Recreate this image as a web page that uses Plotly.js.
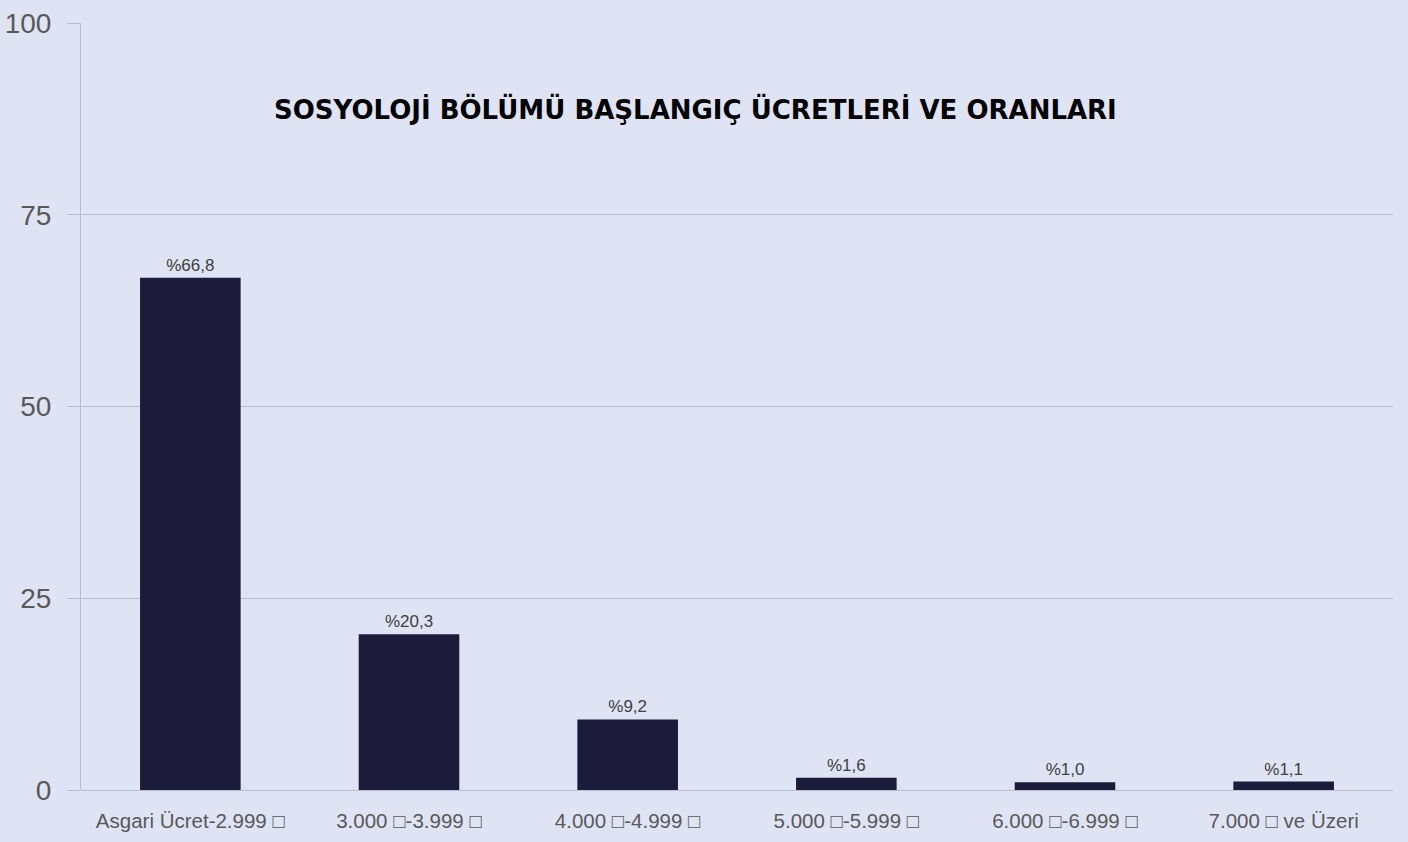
<!DOCTYPE html>
<html>
<head>
<meta charset="utf-8">
<script src="https://cdn.plot.ly/plotly-3.0.1.min.js"></script>
<style>
html,body{margin:0;padding:0;background:#dfe4f4;}
#chart{width:1408px;height:842px;}
</style>
</head>
<body>
<div id="chart"></div>
<script>
const categories = ["Asgari Ücret-2.999 □", "3.000 □-3.999 □", "4.000 □-4.999 □", "5.000 □-5.999 □", "6.000 □-6.999 □", "7.000 □ ve Üzeri"];
const values = [66.8, 20.3, 9.2, 1.6, 1.0, 1.1];
const valueLabels = ["%66,8", "%20,3", "%9,2", "%1,6", "%1,0", "%1,1"];
const yTicks = [0, 25, 50, 75, 100];
const chartTitle = "SOSYOLOJİ BÖLÜMÜ BAŞLANGIÇ ÜCRETLERİ VE ORANLARI";

const bg = "#dfe4f4";
const grid = "#b9bdcf";

Plotly.newPlot("chart", [{
  type: "bar",
  x: categories,
  y: values,
  text: valueLabels,
  textposition: "outside",
  cliponaxis: false,
  textfont: {family: "Liberation Sans, Arial", size: 17, color: "#404040"},
  marker: {color: "#1c1b3a"},
  hoverinfo: "skip"
}], {
  width: 1408,
  height: 842,
  paper_bgcolor: bg,
  plot_bgcolor: bg,
  margin: {l: 81, r: 15, t: 23, b: 52},
  bargap: 0.54,
  showlegend: false,
  annotations: [{
    text: "<b>" + chartTitle + "</b>",
    xref: "paper", yref: "paper",
    x: 0.468, y: 0.888,
    xanchor: "center", yanchor: "middle",
    showarrow: false,
    font: {family: "DejaVu Sans", size: 26, color: "#000000"}
  }],
  xaxis: {
    type: "category",
    showgrid: false,
    showline: false,
    zeroline: false,
    ticks: "",
    ticklabelstandoff: 16,
    tickfont: {family: "Liberation Sans, Arial", size: 20.5, color: "#595959"},
    fixedrange: true
  },
  yaxis: {
    range: [0, 100],
    tickvals: yTicks,
    ticktext: yTicks.map(String),
    showgrid: true,
    gridcolor: grid,
    gridwidth: 1,
    zeroline: true,
    zerolinecolor: grid,
    zerolinewidth: 1,
    showline: true,
    linecolor: grid,
    linewidth: 1,
    ticks: "outside",
    ticklen: 13,
    tickcolor: grid,
    ticklabelstandoff: 10,
    tickfont: {family: "Liberation Sans, Arial", size: 28, color: "#595959"},
    fixedrange: true
  }
}, {displayModeBar: false, staticPlot: true});
</script>
</body>
</html>
